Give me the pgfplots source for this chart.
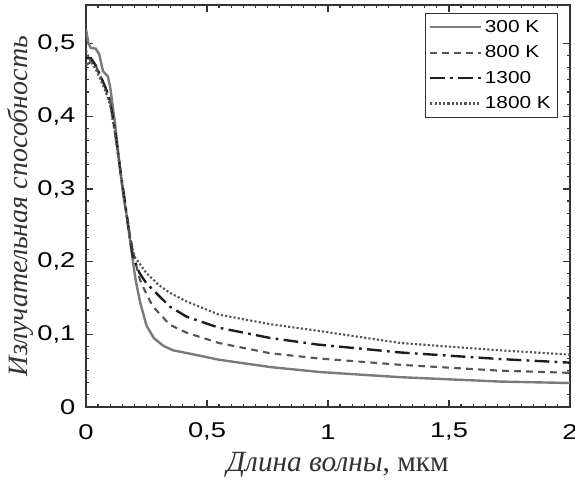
\documentclass[border=0pt]{standalone}
\usepackage{pgfplots}
\pgfplotsset{compat=1.18}
\usepackage{fontspec}
\setmainfont{Liberation Serif}
\newfontfamily\lsans[FakeStretch=1.28]{Liberation Sans}
\newfontfamily\lsansl[FakeStretch=1.2]{Liberation Sans}
\definecolor{axc}{HTML}{333333}
\definecolor{c300}{HTML}{7A7A7A}
\definecolor{c800}{HTML}{555555}
\definecolor{c1300}{HTML}{1E1E1E}
\definecolor{c1800}{HTML}{555555}
\begin{document}
\begin{tikzpicture}
\begin{axis}[
  scale only axis,
  width=363pt, height=301.5pt,
  xmin=0, xmax=2, ymin=0, ymax=0.553,
  xtick={0,0.5,1,1.5,2},
  ytick={0,0.1,0.2,0.3,0.4,0.5},
  minor x tick num=9,
  minor y tick num=5,
  tick align=inside,
  major tick length=5pt,
  minor tick length=2.5pt,
  every tick/.style={axc, line width=0.9pt},
  axis line style={axc, line width=1.5pt},
  /pgf/number format/use comma,
  /pgf/number format/assume math mode=true,
  ticklabel style={font=\lsans\fontsize{16}{18}\selectfont, text=black},
  xticklabel style={anchor=center, yshift=-18.5pt},
  yticklabel style={anchor=east, xshift=-4.5pt},
  xlabel={\textit{Длина волны}, мкм},
  ylabel={\textit{Излучательная способность}},
  xlabel style={font=\fontsize{22}{24}\selectfont, text=axc, at={(axis description cs:0.52,-0.145)}, anchor=center},
  ylabel style={font=\fontsize{21}{24}\selectfont, text=axc, at={(axis description cs:-0.135,0.5)}, anchor=center},
  legend style={at={(1,1)}, xshift=-9pt, yshift=-6pt, anchor=north east, draw=axc, line width=0.8pt,
    font=\lsansl\fontsize{13}{15}\selectfont, inner sep=3pt, row sep=4.5pt,
    cells={anchor=west}},
  legend image code/.code={\draw[#1] (0pt,0pt) -- (38pt,0pt);},
]
\addplot[c300, line width=1.8pt] coordinates {
(0,0.52)(0.01,0.50)(0.02,0.494)(0.04,0.493)(0.055,0.485)(0.07,0.462)(0.09,0.455)(0.1,0.44)
(0.12,0.39)(0.14,0.33)(0.153,0.295)(0.17,0.26)(0.18,0.235)(0.194,0.2)(0.205,0.175)(0.223,0.145)
(0.25,0.112)(0.28,0.095)(0.32,0.084)(0.36,0.078)(0.42,0.074)(0.55,0.065)(0.76,0.055)(0.97,0.048)
(1.3,0.041)(1.71,0.035)(2,0.033)};
\addlegendentry{300 K}
\addplot[c800, line width=1.6pt, dash pattern=on 5pt off 4pt] coordinates {
(0,0.47)(0.02,0.475)(0.04,0.47)(0.06,0.455)(0.08,0.44)(0.1,0.42)(0.12,0.38)(0.14,0.33)
(0.16,0.28)(0.18,0.24)(0.2,0.205)(0.223,0.175)(0.25,0.155)(0.277,0.138)(0.347,0.113)
(0.417,0.102)(0.55,0.088)(0.76,0.074)(0.955,0.067)(1.3,0.058)(1.71,0.05)(2,0.047)};
\addlegendentry{800 K}
\addplot[c1300, line width=1.8pt, dash pattern=on 11pt off 4pt on 2pt off 4pt] coordinates {
(0,0.48)(0.02,0.48)(0.04,0.47)(0.06,0.455)(0.08,0.44)(0.1,0.42)(0.12,0.38)(0.14,0.33)
(0.16,0.285)(0.18,0.235)(0.194,0.207)(0.22,0.185)(0.25,0.17)(0.277,0.161)(0.347,0.138)
(0.417,0.124)(0.55,0.109)(0.76,0.095)(0.955,0.086)(1.3,0.075)(1.71,0.066)(2,0.061)};
\addlegendentry{1300}
\addplot[c1800, line width=1.6pt, dash pattern=on 1.6pt off 1.6pt] coordinates {
(0,0.49)(0.02,0.475)(0.04,0.465)(0.06,0.45)(0.08,0.435)(0.1,0.415)(0.12,0.375)(0.14,0.33)
(0.16,0.28)(0.18,0.235)(0.2,0.207)(0.25,0.184)(0.3,0.168)(0.347,0.157)(0.417,0.145)
(0.55,0.127)(0.76,0.114)(0.955,0.105)(1.3,0.088)(1.71,0.078)(2,0.072)};
\addlegendentry{1800 K}
\end{axis}
\pgfresetboundingbox
\path[use as bounding box] ([shift={(-64.5pt,-57pt)}]current axis.south west) rectangle ([shift={(3.75pt,3.75pt)}]current axis.north east);
\end{tikzpicture}
\end{document}
